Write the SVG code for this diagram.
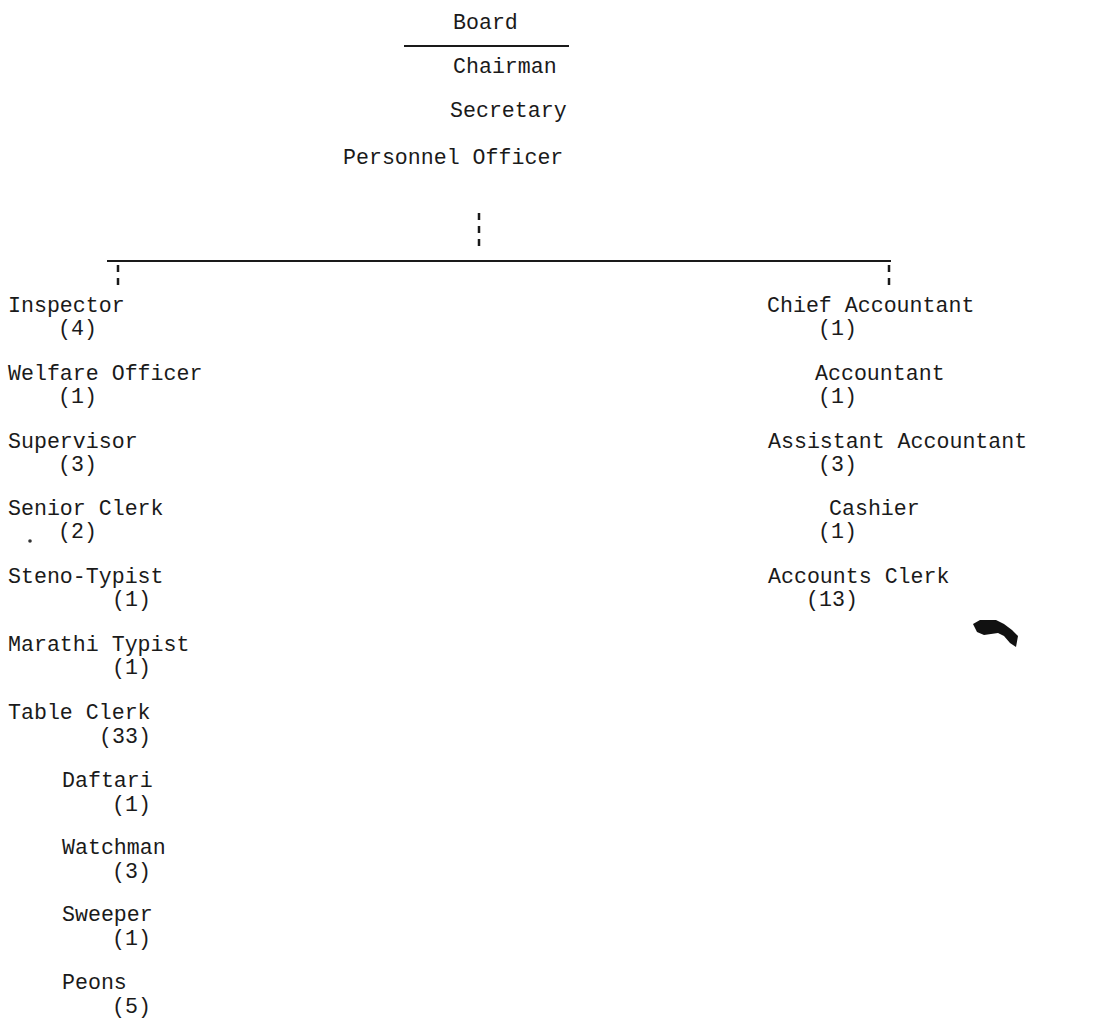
<svg xmlns="http://www.w3.org/2000/svg" width="1097" height="1021" viewBox="0 0 1097 1021">
<style>
text{font-family:"Liberation Mono","Courier New",monospace;font-size:21.6px;fill:#1a1a1a}
.ln{stroke:#1a1a1a;stroke-width:2;fill:none}
.dash{stroke:#1a1a1a;stroke-width:2.5;fill:none;stroke-dasharray:7 6}
</style>
<rect width="1097" height="1021" fill="#ffffff"/>
<g id="connectors">
<line class="ln" x1="404" y1="46" x2="569" y2="46"/>
<line class="dash" x1="479" y1="213" x2="479" y2="248"/>
<line class="ln" x1="107" y1="261" x2="891" y2="261"/>
<line class="dash" x1="118" y1="265" x2="118" y2="285"/>
<line class="dash" x1="889" y1="265" x2="889" y2="285"/>
</g>
<g id="board"><text x="453" y="29">Board</text></g>
<g id="chairman"><text x="453" y="73">Chairman</text></g>
<g id="secretary"><text x="450" y="117">Secretary</text></g>
<g id="personnel-officer"><text x="343" y="164">Personnel Officer</text></g>
<g id="inspector"><text x="8" y="312">Inspector</text><text x="58" y="335">(4)</text></g>
<g id="welfare-officer"><text x="8" y="380">Welfare Officer</text><text x="58" y="403">(1)</text></g>
<g id="supervisor"><text x="8" y="448">Supervisor</text><text x="58" y="471">(3)</text></g>
<g id="senior-clerk"><text x="8" y="515">Senior Clerk</text><text x="58" y="538">(2)</text></g>
<g id="steno-typist"><text x="8" y="583">Steno-Typist</text><text x="112" y="606">(1)</text></g>
<g id="marathi-typist"><text x="8" y="651">Marathi Typist</text><text x="112" y="674">(1)</text></g>
<g id="table-clerk"><text x="8" y="719">Table Clerk</text><text x="99" y="743">(33)</text></g>
<g id="daftari"><text x="62" y="787">Daftari</text><text x="112" y="811">(1)</text></g>
<g id="watchman"><text x="62" y="854">Watchman</text><text x="112" y="878">(3)</text></g>
<g id="sweeper"><text x="62" y="921">Sweeper</text><text x="112" y="945">(1)</text></g>
<g id="peons"><text x="62" y="989">Peons</text><text x="112" y="1013">(5)</text></g>
<g id="chief-accountant"><text x="767" y="312">Chief Accountant</text><text x="818" y="335">(1)</text></g>
<g id="accountant"><text x="815" y="380">Accountant</text><text x="818" y="403">(1)</text></g>
<g id="assistant-accountant"><text x="768" y="448">Assistant Accountant</text><text x="818" y="471">(3)</text></g>
<g id="cashier"><text x="829" y="515">Cashier</text><text x="818" y="538">(1)</text></g>
<g id="accounts-clerk"><text x="768" y="583">Accounts Clerk</text><text x="806" y="606">(13)</text></g>
<circle cx="30" cy="541" r="1.8" fill="#333"/>
<path d="M973 624 L980 620 L996 620 L1004 624 L1012 630 L1018 636 L1016 647 L1010 643 L1004 636 L998 633 L984 635 L977 632 Z" fill="#111"/>
</svg>
